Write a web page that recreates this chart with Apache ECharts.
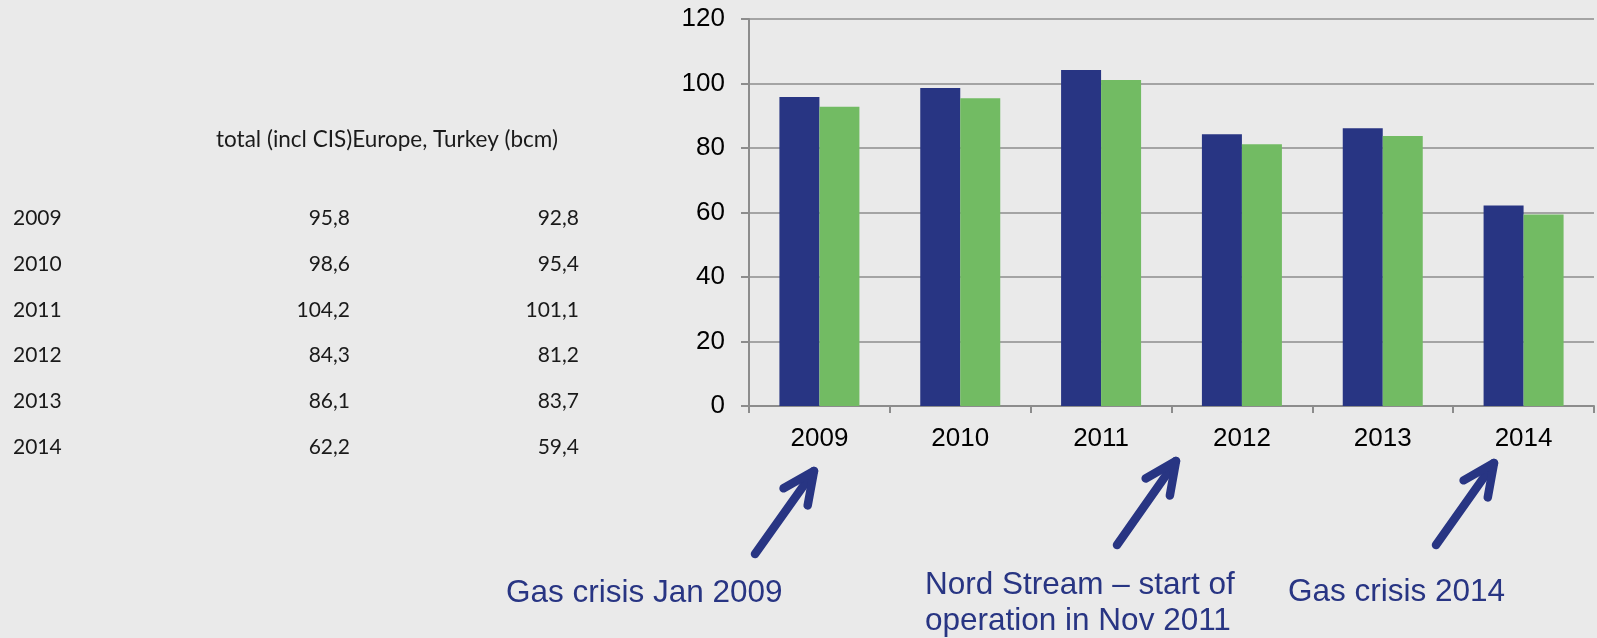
<!DOCTYPE html>
<html>
<head>
<meta charset="utf-8">
<script src="https://cdn.jsdelivr.net/npm/echarts@6/dist/echarts.min.js"></script>
<style>
  html, body { margin: 0; padding: 0; background: #eaeaea; }
  #chart { width: 1597px; height: 638px; }
</style>
</head>
<body>
<div id="chart"></div>
<script>
// data
var years = ['2009', '2010', '2011', '2012', '2013', '2014'];
var totalCIS = [95.8, 98.6, 104.2, 84.3, 86.1, 62.2];
var europeTurkey = [92.8, 95.4, 101.1, 81.2, 83.7, 59.4];
var tableHeader = 'total (incl CIS)Europe, Turkey (bcm)';
var yTicks = { min: 0, max: 120, step: 20 };

var blue = '#283583';
var green = '#72bb63';
var axisGrey = '#8c8c8c';
var arialFont = '"Liberation Sans", Arial, sans-serif';
var tableFont = 'Lato, "Open Sans", sans-serif';

// numbers in the table use a decimal comma
function fmt(v) {
  return v.toFixed(1).replace('.', ',');
}

// build the left-hand table as text elements
function tableGraphics() {
  var out = [];
  out.push({
    type: 'text', x: 216, y: 140,
    style: { text: tableHeader, font: '22.5px ' + tableFont, fill: '#1a1a1a', textVerticalAlign: 'middle' }
  });
  years.forEach(function (y, i) {
    var cy = 218.5 + i * 45.7;
    out.push({
      type: 'text', x: 13, y: cy,
      style: { text: y, font: '21px ' + tableFont, fill: '#1a1a1a', textVerticalAlign: 'middle' }
    });
    out.push({
      type: 'text', x: 350, y: cy,
      style: { text: fmt(totalCIS[i]), font: '21px ' + tableFont, fill: '#1a1a1a', textAlign: 'right', textVerticalAlign: 'middle' }
    });
    out.push({
      type: 'text', x: 579, y: cy,
      style: { text: fmt(europeTurkey[i]), font: '21px ' + tableFont, fill: '#1a1a1a', textAlign: 'right', textVerticalAlign: 'middle' }
    });
  });
  return out;
}

// a thick line with an open chevron head
function arrow(tail, head) {
  var dx = tail[0] - head[0], dy = tail[1] - head[1];
  var len = Math.sqrt(dx * dx + dy * dy);
  var ux = dx / len, uy = dy / len;
  var a = 25 * Math.PI / 180, arm = 35;
  function rot(s) {
    return [head[0] + arm * (ux * Math.cos(s * a) - uy * Math.sin(s * a)),
            head[1] + arm * (ux * Math.sin(s * a) + uy * Math.cos(s * a))];
  }
  var st = { stroke: blue, lineWidth: 8.5, lineCap: 'round', lineJoin: 'round', fill: null };
  return [
    { type: 'polyline', shape: { points: [tail, head] }, style: st },
    { type: 'polyline', shape: { points: [rot(1), head, rot(-1)] }, style: st }
  ];
}

var notes = [
  { type: 'text', left: 506, top: 577, style: { text: 'Gas crisis Jan 2009', font: '31.5px ' + arialFont, fill: blue } },
  { type: 'text', left: 925, top: 567, style: { text: 'Nord Stream \u2013 start of\noperation in Nov 2011', font: '31.5px ' + arialFont, fill: blue, lineHeight: 36 } },
  { type: 'text', left: 1288, top: 576, style: { text: 'Gas crisis 2014', font: '31.5px ' + arialFont, fill: blue } }
];

var arrows = []
  .concat(arrow([755, 554], [814, 471]))
  .concat(arrow([1117, 545], [1176, 461]))
  .concat(arrow([1436, 545], [1494, 463]));

var myChart = echarts.init(document.getElementById('chart'));
var option = {
  backgroundColor: '#eaeaea',
  animation: false,
  grid: { left: 749, right: 3, top: 19, bottom: 232, containLabel: false },
  xAxis: {
    type: 'category',
    data: years,
    axisLine: { lineStyle: { color: axisGrey, width: 2 } },
    axisTick: { show: true, length: 7, lineStyle: { color: axisGrey, width: 2 } },
    axisLabel: { color: '#000', fontFamily: arialFont, fontSize: 26, margin: 20 }
  },
  yAxis: {
    type: 'value',
    min: yTicks.min,
    max: yTicks.max,
    interval: yTicks.step,
    axisLine: { show: true, lineStyle: { color: axisGrey, width: 2 } },
    axisTick: { show: true, length: 8, lineStyle: { color: axisGrey, width: 2 } },
    splitLine: { lineStyle: { color: axisGrey, width: 1.5 } },
    axisLabel: { color: '#000', fontFamily: arialFont, fontSize: 26, margin: 24 }
  },
  series: [{
    name: 'total (incl CIS)',
    type: 'bar',
    data: totalCIS,
    barWidth: 40,
    barGap: '0%',
    itemStyle: { color: blue }
  }, {
    name: 'Europe, Turkey (bcm)',
    type: 'bar',
    data: europeTurkey,
    barWidth: 40,
    itemStyle: { color: green }
  }],
  graphic: tableGraphics().concat(arrows).concat(notes)
};
myChart.setOption(option);
</script>
</body>
</html>
